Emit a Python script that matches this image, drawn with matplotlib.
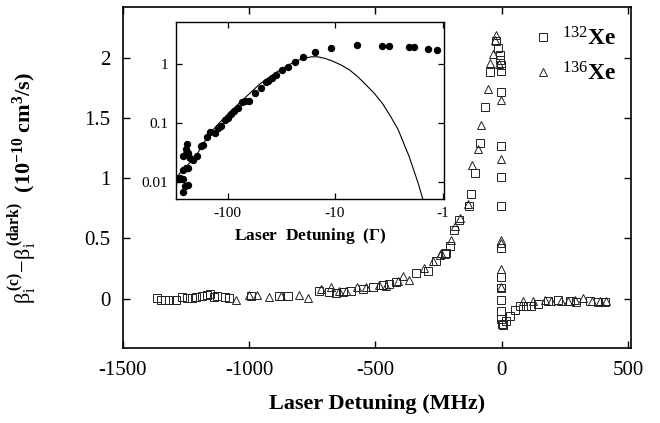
import numpy as np
import matplotlib
matplotlib.use("Agg")
import matplotlib.pyplot as plt
from matplotlib.lines import Line2D
from matplotlib.ticker import FixedLocator, FixedFormatter, NullLocator

plt.rcParams['font.family'] = 'Liberation Serif'
plt.rcParams['mathtext.fontset'] = 'custom'
plt.rcParams['mathtext.rm'] = 'Liberation Serif'
plt.rcParams['mathtext.it'] = 'Liberation Serif:italic'
plt.rcParams['mathtext.bf'] = 'Liberation Serif:bold'
plt.rcParams['axes.unicode_minus'] = False

# -----------------------------
# DATA: main panel (MHz, 1e-10 cm^3/s)
# -----------------------------
xe132_x = [-1364, -1350, -1333, -1315, -1288, -1265, -1245, -1225, -1212, -1185,
           -1165, -1156, -1139, -1126, -1095, -1079, -993, -881, -844, -722,
           -683, -654, -630, -596, -550, -511, -471, -444, -418, -338,
           -292, -259, -226, -222, -206, -187, -167, -130, -120, -107,
           -87, -67, -48, -24, -15, -8, -8, -4, -4, -1,
           -1, -1, -1, -1, -1, -1, -1, -1, -1, 0,
           5, 19, 32, 52, 71, 98, 118, 144, 184, 223,
           270, 296, 349, 382, 409]
xe132_y = [0.006, -0.008, -0.008, -0.008, -0.010, 0.014, 0.006, 0.006, 0.011, 0.019,
           0.033, 0.039, 0.011, 0.019, 0.011, 0.006, 0.020, 0.019, 0.025, 0.061,
           0.053, 0.047, 0.055, 0.066, 0.080, 0.100, 0.110, 0.124, 0.138, 0.213,
           0.227, 0.310, 0.373, 0.379, 0.434, 0.572, 0.655, 0.766, 0.871, 1.04,
           1.29, 1.59, 1.885, 2.14, 2.08, 2.02, 1.98, 1.94, 1.89, 1.72,
           1.27, 1.01, 0.77, 0.42, 0.18, 0.089, -0.008, -0.10, -0.17, -0.21,
           -0.216, -0.188, -0.146, -0.091, -0.064, -0.064, -0.059, -0.041, -0.017, -0.014,
           -0.020, -0.025, -0.017, -0.028, -0.030]

xe136_x = [-1053, -1000, -968, -921, -875, -802, -765, -716, -676, -643,
           -617, -571, -538, -484, -457, -411, -392, -365, -306, -273,
           -246, -240, -200, -183, -164, -134, -116, -94, -81, -54,
           -45, -34, -28, -24, -11, -1, -1, -1, -1, -1,
           -1, 85, 124, 171, 197, 237, 263, 290, 323, 356,
           389, 415]
xe136_y = [-0.014, 0.028, 0.033, 0.011, 0.019, 0.033, 0.003, 0.080, 0.094, 0.061,
           0.066, 0.094, 0.097, 0.110, 0.108, 0.144, 0.185, 0.158, 0.254, 0.310,
           0.365, 0.380, 0.490, 0.600, 0.670, 0.790, 1.11, 1.24, 1.44, 1.74,
           1.96, 2.03, 2.15, 2.19, 1.95, 1.65, 1.16, 0.49, 0.46, 0.25,
           0.10, -0.017, -0.022, -0.008, -0.017, -0.017, -0.020, -0.012, 0.003, -0.017,
           -0.017, -0.022]

# -----------------------------
# DATA: inset (detuning in units of Gamma, log-log)
# -----------------------------
inset_x = [-15.4, -11.0, -6.24, -3.68, -3.15, -2.07, -1.83, -1.38, -1.13,
           -19.7, -23.8, -27.4, -31.1, -35.2, -38.4, -42.4, -44.2, -49.1, -55.4,
           -62.9, -68.4, -73.3, -80.4, -86.3, -92.5, -99.3, -106.6, -114, -123,
           -131.5, -144, -155, -168, -178, -194, -208, -239, -243, -248,
           -260, -231, -223, -243, -257, -231, -275, -286, -257, -248,
           -231, -257]
inset_y = [1.62, 1.89, 2.15, 2.05, 2.07, 1.99, 1.92, 1.84, 1.71,
           1.30, 1.07, 0.90, 0.79, 0.65, 0.59, 0.52, 0.49, 0.387, 0.327,
           0.239, 0.239, 0.23, 0.177, 0.16, 0.14, 0.12, 0.112, 0.089, 0.081,
           0.067, 0.069, 0.057, 0.042, 0.040, 0.027, 0.0236, 0.044, 0.0358, 0.0287,
           0.0276, 0.0306, 0.0252, 0.0171, 0.016, 0.0171, 0.0115, 0.0111, 0.0111, 0.0083,
           0.0089, 0.0066]

fit_x = [-300, -250, -200, -146, -100, -72.3, -50, -35.8, -27, -21.8,
         -18.5, -16.5, -14.5, -12.4, -10.5, -8.75, -7.3, -6.15, -5.2, -4.33,
         -3.6, -3.04, -2.6, -2.30, -2.05, -1.86, -1.68, -1.53]
fit_y = [0.0118, 0.017, 0.026, 0.067, 0.14, 0.245, 0.46, 0.71, 0.97, 1.17,
         1.28, 1.33, 1.33, 1.25, 1.12, 0.96, 0.79, 0.61, 0.45, 0.32,
         0.21, 0.128, 0.078, 0.045, 0.027, 0.016, 0.0092, 0.0051]

# -----------------------------
# FIGURE
# -----------------------------
fig = plt.figure(figsize=(6.6, 4.23), dpi=100)
ax = fig.add_axes([0.186, 0.177, 0.770, 0.806])

mk = dict(linestyle='none', markerfacecolor='none', markeredgecolor='#222222',
          markeredgewidth=0.7)
ax.plot(xe132_x, xe132_y, marker='s', markersize=5.8, **mk)
ax.plot(xe136_x, xe136_y, marker='^', markersize=6.3, **mk)

ax.set_xlim(-1500, 512)
ax.set_ylim(-0.41, 2.42)
ax.set_xticks([-1500, -1000, -500, 0, 500])
ax.set_yticks([0, 0.5, 1, 1.5, 2])
ax.set_yticklabels(['0', '0.5', '1', '1.5', '2'])
ax.tick_params(direction='in', top=True, right=True, length=5, width=1,
               labelsize=15, pad=9)
for s in ax.spines.values():
    s.set_linewidth(1.2)

ax.set_xlabel('Laser Detuning (MHz)', fontsize=16, fontweight='bold', labelpad=10)
ax.set_ylabel(r'$\mathrm{β}_{\mathrm{i}}^{\,\mathbf{(c)}}\!-\!\mathrm{β}_{\mathrm{i}}^{\,\mathbf{(dark)}}$'
              r'$\ \ \mathbf{(10^{-10}\ cm^{3}/s)}$', fontsize=16)
ax.yaxis.set_label_coords(-0.165, 0.47)

handles = [Line2D([], [], marker='s', markersize=5.8, **mk),
           Line2D([], [], marker='^', markersize=6.3, **mk)]
ax.legend(handles, [r'$^{132}\mathbf{Xe}$', r'$^{136}\mathbf{Xe}$'],
          loc='upper right', frameon=False, fontsize=17, handlelength=0.8,
          handletextpad=0.4, labelspacing=0.5, borderaxespad=0.1,
          bbox_to_anchor=(0.995, 0.975))

# -----------------------------
# INSET
# -----------------------------
ins = fig.add_axes([0.267, 0.530, 0.405, 0.418])
ins.set_xscale('function', functions=(lambda x: -np.log10(np.abs(x)),
                                       lambda y: -10.0 ** (-y)))
ins.set_yscale('log')
ins.plot(fit_x, fit_y, color='black', linewidth=0.8)
ins.plot(inset_x, inset_y, linestyle='none', marker='o', markersize=4.3,
         color='black')

ins.set_xlim(-300, -0.98)
ins.set_ylim(0.0051, 5.2)
ins.xaxis.set_major_locator(FixedLocator([-100, -10, -1]))
ins.xaxis.set_major_formatter(FixedFormatter(['-100', '-10', '-1']))
ins.xaxis.set_minor_locator(NullLocator())
ins.yaxis.set_major_locator(FixedLocator([0.01, 0.1, 1]))
ins.yaxis.set_major_formatter(FixedFormatter(['0.01', '0.1', '1']))
ins.yaxis.set_minor_locator(NullLocator())
ins.tick_params(direction='in', top=True, right=True, length=4, width=0.9,
                labelsize=11, pad=6)
for s in ins.spines.values():
    s.set_linewidth(1.0)
ins.set_xlabel(r'Laser  Detuning  ($\mathbf{Γ}$)', fontsize=12.5, fontweight='bold',
               labelpad=4)

fig.savefig('out.png', dpi=100)
